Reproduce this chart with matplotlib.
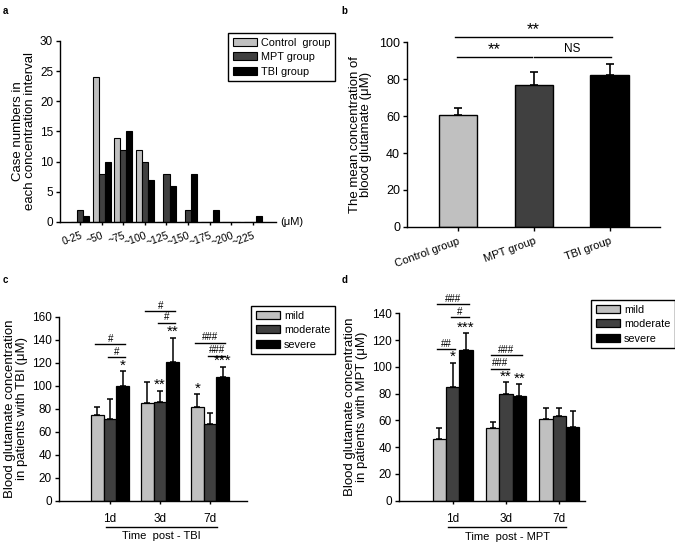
import numpy as np
import matplotlib
matplotlib.use('Agg')
import matplotlib.pyplot as plt

# --- data ---
conc_bins = ['0-25', '~50', '~75', '~100', '~125', '~150', '~175', '~200', '~225']
hist_control = [0, 24, 14, 12, 0, 0, 0, 0, 0]
hist_mpt = [2, 8, 12, 10, 8, 2, 0, 0, 0]
hist_tbi = [1, 10, 15, 7, 6, 8, 2, 0, 1]

groups_b = ['Control group', 'MPT group', 'TBI group']
mean_b = [60.3, 76.8, 82.3]
err_b = [3.9, 6.8, 5.6]

days = ['1d', '3d', '7d']
severity = ['mild', 'moderate', 'severe']

tbi_mild = [74.5, 84.7, 81.2]
tbi_moderate = [71.0, 85.8, 66.4]
tbi_severe = [99.7, 120.3, 107.3]
tbi_mild_err = [7.2, 18.8, 11.3]
tbi_moderate_err = [17.2, 9.9, 9.6]
tbi_severe_err = [13.1, 21.4, 9.2]
tbi_stars = [['', '', '*'], ['', '**', '**'], ['*', '', '***']]
# (day, from bar, to bar, level, label)
tbi_hash = [(0, 0, 2, 136, '#'), (0, 1, 2, 124.7, '#'),
            (1, 0, 2, 165, '#'), (1, 1, 2, 154.8, '#'),
            (2, 0, 2, 137.4, '###'), (2, 1, 2, 126, '###')]

mpt_mild = [45.8, 54.3, 61.0]
mpt_moderate = [85.2, 79.7, 63.3]
mpt_severe = [112.3, 78.4, 55.3]
mpt_mild_err = [8.2, 4.7, 8.0]
mpt_moderate_err = [17.8, 8.7, 5.7]
mpt_severe_err = [12.7, 8.8, 11.9]
mpt_stars = [['', '*', '***'], ['', '**', '**'], ['', '', '']]
mpt_hash = [(0, 0, 2, 146.7, '###'), (0, 1, 2, 137, '#'), (0, 0, 1, 113, '##'),
            (1, 0, 2, 108.6, '###'), (1, 0, 1, 98.6, '###')]

colors = ['#c0c0c0', '#404040', '#000000']

plt.rcParams['font.family'] = ['Liberation Sans', 'DejaVu Sans']
plt.rcParams['axes.linewidth'] = 1.0
plt.rcParams['xtick.major.width'] = 1.0
plt.rcParams['ytick.major.width'] = 1.0
plt.rcParams['xtick.direction'] = 'out'
plt.rcParams['ytick.direction'] = 'out'

fig = plt.figure(figsize=(6.75, 5.45), dpi=100)


def clean(ax):
    ax.spines['top'].set_visible(False)
    ax.spines['right'].set_visible(False)
    ax.tick_params(axis='y', length=3, labelsize=8.5, pad=2)
    ax.tick_params(axis='x', length=3)


def ylab(ax, text, size, pad):
    ax.set_ylabel(text, fontsize=size, linespacing=0.95, labelpad=pad)


def box_legend(ax, xy):
    lg = ax.legend(loc='upper left', bbox_to_anchor=xy, bbox_transform=fig.transFigure,
                   borderaxespad=0, fancybox=False, edgecolor='k', framealpha=1, fontsize=7.8,
                   handlelength=2.2, handleheight=0.75, labelspacing=0.4, borderpad=0.45,
                   handletextpad=0.4)
    lg.get_frame().set_linewidth(1.0)
    return lg


def star(ax, s, x, y, size, dy):
    ax.annotate(s, (x, y), xytext=(0, dy), textcoords='offset points', ha='center',
                va='bottom', fontsize=size, annotation_clip=False)


# ---------- a ----------
axa = fig.add_axes([0.0889, 0.5927, 0.32, 0.3321])
clean(axa)
x = np.arange(len(conc_bins))
w = 0.28
for k, (vals, lab) in enumerate(zip([hist_control, hist_mpt, hist_tbi],
                                    ['Control  group', 'MPT group', 'TBI group'])):
    axa.bar(x + (k - 1) * w, vals, w, color=colors[k], edgecolor='k', linewidth=0.8, label=lab)
axa.set_xlim(-0.93, 9.07)
axa.set_ylim(0, 30)
axa.set_yticks(range(0, 31, 5))
axa.set_xticks(x)
axa.set_xticklabels(conc_bins, rotation=20, ha='right', rotation_mode='anchor', fontsize=7.5)
axa.tick_params(axis='x', length=2, pad=4)
axa.text(1.02, 0, '(μM)', transform=axa.transAxes, ha='left', va='center', fontsize=8)
ylab(axa, 'Case numbers in\neach concentration interval', 9.5, 3)
box_legend(axa, (0.3378, 0.9394))

# ---------- b ----------
axb = fig.add_axes([0.603, 0.5835, 0.3748, 0.3394])
clean(axb)
xb = np.arange(len(groups_b))
axb.bar(xb, mean_b, 0.51, color=colors, edgecolor='k', linewidth=1.0)
axb.errorbar(xb, mean_b, yerr=[np.zeros(3), err_b], fmt='none', ecolor='k',
             elinewidth=1.2, capsize=3, capthick=1.2)
axb.set_xlim(-0.67, 2.66)
axb.set_ylim(0, 100)
axb.set_yticks(range(0, 101, 20))
axb.set_xticks(xb)
axb.set_xticklabels(groups_b, rotation=20, ha='right', rotation_mode='anchor', fontsize=8)
axb.tick_params(axis='y', labelsize=9)
ylab(axb, 'The mean concentration of\nblood glutamate (μM)', 9.5, 5)
for x0, x1, lev, lab in [(-0.04, 2.03, 102.9, '**'), (-0.01, 0.97, 92, '**'), (1.0, 2.01, 92, 'NS')]:
    axb.plot([x0, x1], [lev, lev], color='k', lw=1.0, clip_on=False)
    if lab == 'NS':
        axb.text((x0 + x1) / 2, lev + 1.0, lab, ha='center', va='bottom', fontsize=8.5)
    else:
        star(axb, lab, (x0 + x1) / 2, lev, 12, 0)


# ---------- c, d ----------
def grouped(ax, means, errs, stars, hashes, w, ymax, step, legend_xy, xlab, line_x):
    clean(ax)
    xg = np.arange(len(days))
    for k in range(3):
        xs = xg + (k - 1) * w
        ax.bar(xs, means[k], w, color=colors[k], edgecolor='k', linewidth=0.9, label=severity[k])
        ax.errorbar(xs, means[k], yerr=[np.zeros(3), errs[k]], fmt='none', ecolor='k',
                    elinewidth=1.1, capsize=2.2, capthick=1.1)
        for d in range(3):
            if stars[d][k]:
                star(ax, stars[d][k], xs[d], means[k][d] + errs[k][d], 11, -1)
    for d, i, j, lev, lab in hashes:
        x0 = d + (i - 1) * w - 0.04
        x1 = d + (j - 1) * w + 0.05
        ax.plot([x0, x1], [lev, lev], color='k', lw=1.0, clip_on=False)
        ax.text((x0 + x1) / 2, lev + 0.3, lab, ha='center', va='bottom', fontsize=7)
    ax.set_ylim(0, ymax)
    ax.set_yticks(range(0, ymax + 1, step))
    ax.set_xticks(xg)
    ax.set_xticklabels(days, fontsize=8.5)
    ax.tick_params(axis='x', length=2, pad=7)
    tr = ax.get_xaxis_transform()
    ax.plot(line_x, [-0.141, -0.141], transform=tr, color='k', lw=1.0, clip_on=False)
    ax.text(np.mean(line_x), -0.165, xlab, transform=tr, ha='center', va='top', fontsize=8)
    box_legend(ax, legend_xy)


axc = fig.add_axes([0.0874, 0.0813, 0.2785, 0.3376])
grouped(axc, [tbi_mild, tbi_moderate, tbi_severe],
        [tbi_mild_err, tbi_moderate_err, tbi_severe_err],
        tbi_stars, tbi_hash, 0.254, 160, 20, (0.3719, 0.4385), 'Time  post - TBI', [-0.08, 2.14])
axc.set_xlim(-1.02, 2.74)
ylab(axc, 'Blood glutamate concentration\nin patients with TBI (μM)', 9.5, 3)

axd = fig.add_axes([0.5911, 0.0813, 0.2756, 0.3439])
grouped(axd, [mpt_mild, mpt_moderate, mpt_severe],
        [mpt_mild_err, mpt_moderate_err, mpt_severe_err],
        mpt_stars, mpt_hash, 0.25, 140, 20, (0.8756, 0.4495), 'Time  post - MPT', [-0.09, 2.13])
axd.set_xlim(-1.007, 2.48)
ylab(axd, 'Blood glutamate concentration\nin patients with MPT (μM)', 9.5, 3)

# panel letters
for px, py, s in [(3, 6, 'a'), (341, 6, 'b'), (3, 275, 'c'), (342, 275, 'd')]:
    fig.text(px / 675, 1 - py / 545, s, ha='left', va='top', fontsize=7, fontweight='bold')

fig.savefig('out.png', dpi=100)
